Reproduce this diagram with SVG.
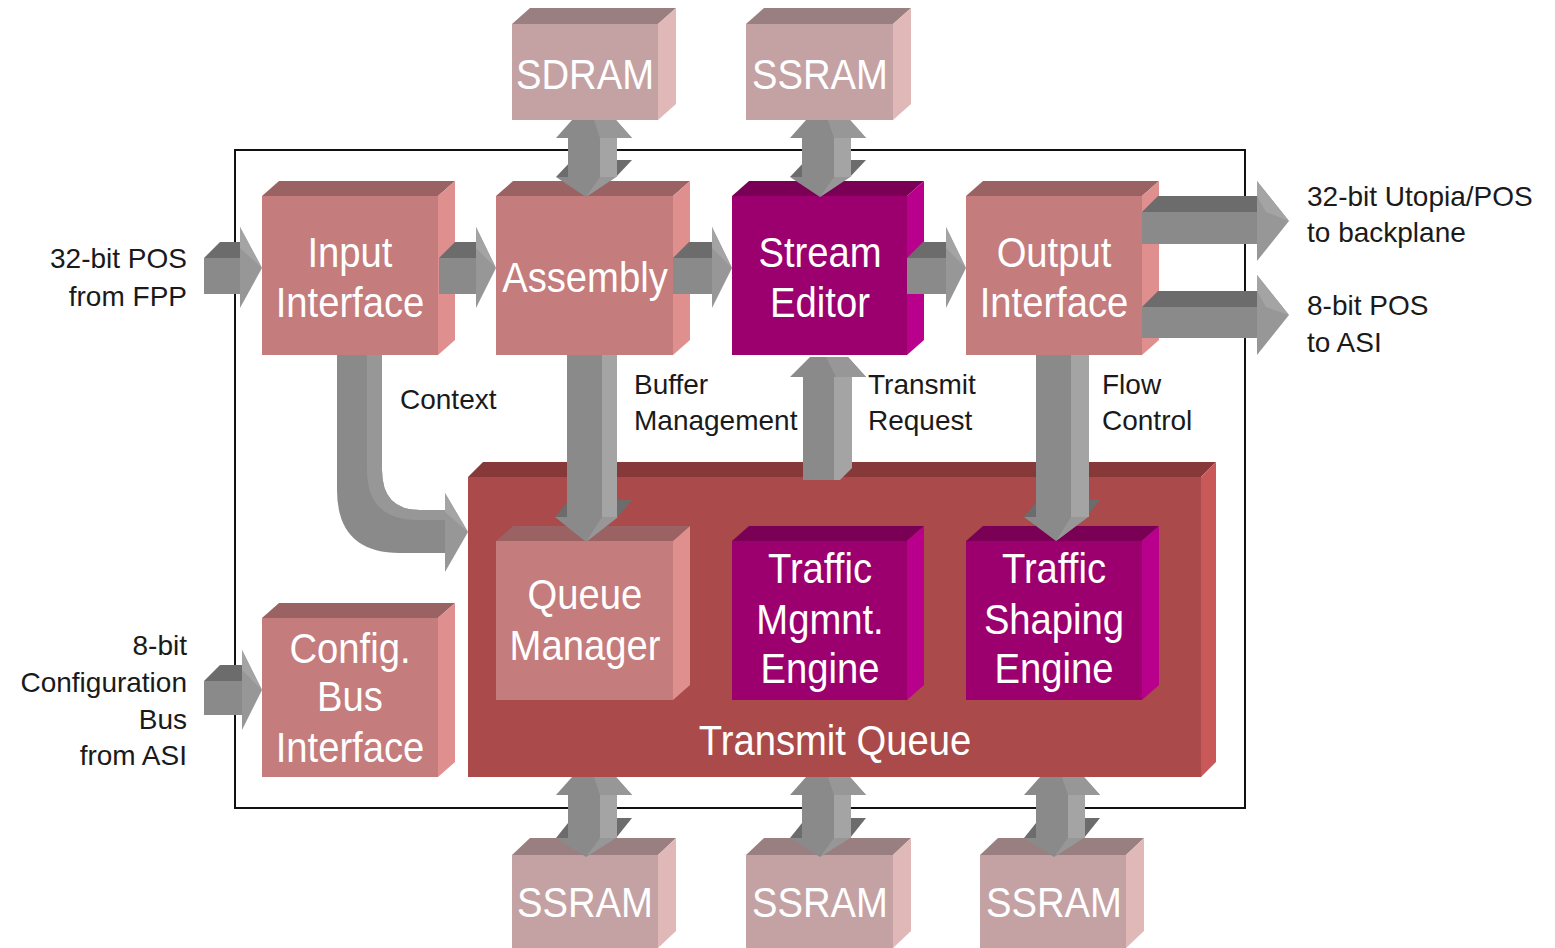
<svg xmlns="http://www.w3.org/2000/svg" width="1555" height="948" viewBox="0 0 1555 948">
<style>
.pf{fill:#c47c7c}.pt{fill:#9a6262}.ps{fill:#e08f8f}
.mf{fill:#9c006f}.mt{fill:#7a0055}.ms{fill:#b8008c}
.rf{fill:#c4a2a4}.rt{fill:#9a7f80}.rs{fill:#e0b8b8}
.qf{fill:#ab4a4a}.qt{fill:#873838}.qs{fill:#c95858}
.af{fill:#8a8a8a}.ad{fill:#6c6c6c}.al{fill:#a4a4a4}.ah{fill:#979797}
.wt{font-family:"Liberation Sans",Arial,sans-serif;font-size:42px;fill:#ffffff;text-anchor:middle;transform-box:fill-box;transform-origin:center;transform:scaleX(0.91)}
.bt{font-family:"Liberation Sans",Arial,sans-serif;font-size:28px;fill:#1a1a1a}
.br{text-anchor:end}
</style>
<rect width="1555" height="948" fill="#ffffff"/>
<rect x="235" y="150" width="1010" height="658" fill="none" stroke="#111" stroke-width="2"/>

<g id="labels">
<text class="bt br" x="187" y="268">32-bit POS</text>
<text class="bt br" x="187" y="306">from FPP</text>
<text class="bt" x="400" y="409">Context</text>
<text class="bt" x="634" y="394">Buffer</text>
<text class="bt" x="634" y="430">Management</text>
<text class="bt" x="868" y="394">Transmit</text>
<text class="bt" x="868" y="430">Request</text>
<text class="bt" x="1102" y="394">Flow</text>
<text class="bt" x="1102" y="430">Control</text>
<text class="bt" x="1307" y="206">32-bit Utopia/POS</text>
<text class="bt" x="1307" y="242">to backplane</text>
<text class="bt" x="1307" y="315">8-bit POS</text>
<text class="bt" x="1307" y="352">to ASI</text>
<text class="bt br" x="187" y="655">8-bit</text>
<text class="bt br" x="187" y="692">Configuration</text>
<text class="bt br" x="187" y="729">Bus</text>
<text class="bt br" x="187" y="765">from ASI</text>
</g>

<g id="sdram">
<polygon class="rt" points="512,24 530,8 676,8 658,24"/>
<polygon class="rs" points="658,24 676,8 676,104 658,120"/>
<rect class="rf" x="512" y="24" width="146" height="96"/>
<text class="wt" x="585" y="89">SDRAM</text>
</g>
<g id="ssram-top">
<polygon class="rt" points="746,24 764,8 911,8 893,24"/>
<polygon class="rs" points="893,24 911,8 911,104 893,120"/>
<rect class="rf" x="746" y="24" width="147" height="96"/>
<text class="wt" x="820" y="89">SSRAM</text>
</g>

<g id="input-interface">
<polygon class="pt" points="262,196 279,181 455,181 438,196"/>
<polygon class="ps" points="438,196 455,181 455,340 438,355"/>
<rect class="pf" x="262" y="196" width="176" height="159"/>
<text class="wt" x="350" y="267">Input</text>
<text class="wt" x="350" y="317">Interface</text>
</g>
<g id="assembly">
<polygon class="pt" points="496,196 513,181 690,181 673,196"/>
<polygon class="ps" points="673,196 690,181 690,340 673,355"/>
<rect class="pf" x="496" y="196" width="177" height="159"/>
<text class="wt" x="585" y="292">Assembly</text>
</g>
<g id="stream-editor">
<polygon class="mt" points="732,196 749,181 924,181 907,196"/>
<polygon class="ms" points="907,196 924,181 924,340 907,355"/>
<rect class="mf" x="732" y="196" width="175" height="159"/>
<text class="wt" x="820" y="267">Stream</text>
<text class="wt" x="820" y="317">Editor</text>
</g>
<g id="output-interface">
<polygon class="pt" points="966,196 983,181 1159,181 1142,196"/>
<polygon class="ps" points="1142,196 1159,181 1159,340 1142,355"/>
<rect class="pf" x="966" y="196" width="176" height="159"/>
<text class="wt" x="1054" y="267">Output</text>
<text class="wt" x="1054" y="317">Interface</text>
</g>

<g id="transmit-queue">
<polygon class="qt" points="468,477 483,462 1216,462 1201,477"/>
<polygon class="qs" points="1201,477 1216,462 1216,762 1201,777"/>
<rect class="qf" x="468" y="477" width="733" height="300"/>
<text class="wt" x="835" y="755">Transmit Queue</text>
</g>
<g id="queue-manager">
<polygon class="pt" points="496,541 513,526 690,526 673,541"/>
<polygon class="ps" points="673,541 690,526 690,685 673,700"/>
<rect class="pf" x="496" y="541" width="177" height="159"/>
<text class="wt" x="585" y="609">Queue</text>
<text class="wt" x="585" y="660">Manager</text>
</g>
<g id="traffic-mgmnt-engine">
<polygon class="mt" points="732,541 749,526 924,526 907,541"/>
<polygon class="ms" points="907,541 924,526 924,685 907,700"/>
<rect class="mf" x="732" y="541" width="175" height="159"/>
<text class="wt" x="820" y="583">Traffic</text>
<text class="wt" x="820" y="634">Mgmnt.</text>
<text class="wt" x="820" y="683">Engine</text>
</g>
<g id="traffic-shaping-engine">
<polygon class="mt" points="966,541 983,526 1159,526 1142,541"/>
<polygon class="ms" points="1142,541 1159,526 1159,685 1142,700"/>
<rect class="mf" x="966" y="541" width="176" height="159"/>
<text class="wt" x="1054" y="583">Traffic</text>
<text class="wt" x="1054" y="634">Shaping</text>
<text class="wt" x="1054" y="683">Engine</text>
</g>
<g id="config-bus-interface">
<polygon class="pt" points="262,618 279,603 455,603 438,618"/>
<polygon class="ps" points="438,618 455,603 455,762 438,777"/>
<rect class="pf" x="262" y="618" width="176" height="159"/>
<text class="wt" x="350" y="663">Config.</text>
<text class="wt" x="350" y="711">Bus</text>
<text class="wt" x="350" y="762">Interface</text>
</g>

<g id="ssram-b1">
<polygon class="rt" points="512,855 530,838 676,838 658,855"/>
<polygon class="rs" points="658,855 676,838 676,931 658,948"/>
<rect class="rf" x="512" y="855" width="146" height="93"/>
<text class="wt" x="585" y="917">SSRAM</text>
</g>
<g id="ssram-b2">
<polygon class="rt" points="746,855 764,838 911,838 893,855"/>
<polygon class="rs" points="893,855 911,838 911,931 893,948"/>
<rect class="rf" x="746" y="855" width="147" height="93"/>
<text class="wt" x="820" y="917">SSRAM</text>
</g>
<g id="ssram-b3">
<polygon class="rt" points="980,855 998,838 1144,838 1126,855"/>
<polygon class="rs" points="1126,855 1144,838 1144,931 1126,948"/>
<rect class="rf" x="980" y="855" width="146" height="93"/>
<text class="wt" x="1054" y="917">SSRAM</text>
</g>

<g id="connectors">
<g id="a-fpp">
<polygon class="ad" points="204,258 220,242 240,242 240,258"/>
<rect class="af" x="204" y="258" width="36" height="36"/>
<polygon class="ah" points="240,227 262,268 240,308"/>
<polygon class="al" points="240,227 262,268 240,248"/>
</g>
<g id="a-in-asm">
<polygon class="ad" points="439,258 455,242 476,242 476,258"/>
<rect class="af" x="439" y="258" width="37" height="36"/>
<polygon class="ah" points="476,227 496,268 476,308"/>
<polygon class="al" points="476,227 496,268 476,248"/>
</g>
<g id="a-asm-se">
<polygon class="ad" points="673,258 689,242 712,242 712,258"/>
<rect class="af" x="673" y="258" width="39" height="36"/>
<polygon class="ah" points="712,227 732,268 712,308"/>
<polygon class="al" points="712,227 732,268 712,248"/>
</g>
<g id="a-se-out">
<polygon class="ad" points="907,258 923,242 946,242 946,258"/>
<rect class="af" x="907" y="258" width="39" height="36"/>
<polygon class="ah" points="946,227 966,268 946,308"/>
<polygon class="al" points="946,227 966,268 946,248"/>
</g>
<g id="a-out-bp">
<polygon class="ad" points="1142,212 1158,196 1257,196 1257,212"/>
<rect class="af" x="1142" y="212" width="115" height="32"/>
<polygon class="ah" points="1257,181 1289,221 1257,261"/>
<polygon class="al" points="1257,181 1289,221 1266,212 1257,196"/>
</g>
<g id="a-out-asi">
<polygon class="ad" points="1142,307 1158,291 1257,291 1257,307"/>
<rect class="af" x="1142" y="307" width="115" height="31"/>
<polygon class="ah" points="1257,275 1289,315 1257,355"/>
<polygon class="al" points="1257,275 1289,315 1266,307 1257,291"/>
</g>
<g id="a-cfg">
<polygon class="ad" points="204,681 220,665 242,665 242,681"/>
<rect class="af" x="204" y="681" width="38" height="34"/>
<polygon class="ah" points="242,650 262,690 242,730"/>
<polygon class="al" points="242,650 262,690 242,670"/>
</g>

<g id="v-sdram">
<polygon class="af" points="556,138 572,120 616,120 632,138"/>
<polygon class="ah" points="594,120 616,120 632,138 600,138"/>
<polygon class="ad" points="556,177 572,160 632,160 616,177"/>
<rect class="af" x="568" y="138" width="32" height="39"/>
<rect class="al" x="600" y="138" width="17" height="39"/>
<polygon class="af" points="556,177 616,177 586,197"/>
<polygon class="ah" points="586,197 616,177 600,177"/>
</g>
<g id="v-ssram-top">
<polygon class="af" points="790,138 806,120 850,120 866,138"/>
<polygon class="ah" points="828,120 850,120 866,138 834,138"/>
<polygon class="ad" points="790,177 806,160 866,160 850,177"/>
<rect class="af" x="802" y="138" width="32" height="39"/>
<rect class="al" x="834" y="138" width="17" height="39"/>
<polygon class="af" points="790,177 850,177 820,197"/>
<polygon class="ah" points="820,197 850,177 834,177"/>
</g>
<g id="v-ssram-b1">
<polygon class="af" points="556,795 572,777 616,777 632,795"/>
<polygon class="ah" points="594,777 616,777 632,795 600,795"/>
<polygon class="ad" points="556,838 572,818 632,818 616,838"/>
<rect class="af" x="568" y="795" width="32" height="43"/>
<rect class="al" x="600" y="795" width="17" height="43"/>
<polygon class="af" points="556,838 616,838 586,857"/>
<polygon class="ah" points="586,857 616,838 600,838"/>
</g>
<g id="v-ssram-b2">
<polygon class="af" points="790,795 806,777 850,777 866,795"/>
<polygon class="ah" points="828,777 850,777 866,795 834,795"/>
<polygon class="ad" points="790,838 806,818 866,818 850,838"/>
<rect class="af" x="802" y="795" width="32" height="43"/>
<rect class="al" x="834" y="795" width="17" height="43"/>
<polygon class="af" points="790,838 850,838 820,857"/>
<polygon class="ah" points="820,857 850,838 834,838"/>
</g>
<g id="v-ssram-b3">
<polygon class="af" points="1024,795 1040,777 1084,777 1100,795"/>
<polygon class="ah" points="1062,777 1084,777 1100,795 1068,795"/>
<polygon class="ad" points="1024,838 1040,818 1100,818 1084,838"/>
<rect class="af" x="1036" y="795" width="32" height="43"/>
<rect class="al" x="1068" y="795" width="17" height="43"/>
<polygon class="af" points="1024,838 1084,838 1054,857"/>
<polygon class="ah" points="1054,857 1084,838 1068,838"/>
</g>

<g id="a-buffer">
<polygon class="ad" points="555,517 569,500 632,500 618,517"/>
<rect class="af" x="567" y="355" width="35" height="162"/>
<rect class="al" x="602" y="355" width="15" height="162"/>
<polygon class="af" points="555,517 618,517 586,542"/>
<polygon class="ah" points="586,542 618,517 602,517"/>
</g>
<g id="a-flow">
<polygon class="ad" points="1024,517 1038,500 1100,500 1086,517"/>
<rect class="af" x="1036" y="355" width="35" height="162"/>
<rect class="al" x="1071" y="355" width="18" height="162"/>
<polygon class="af" points="1024,517 1088,517 1056,541"/>
<polygon class="ah" points="1056,541 1088,517 1071,517"/>
</g>
<g id="a-treq">
<rect class="af" x="803" y="377" width="31" height="103"/>
<polygon class="al" points="834,377 852,377 852,468 840,480 834,480"/>
<polygon class="af" points="790,377 810,357 848,357 866,377"/>
<polygon class="ah" points="826,357 848,357 866,377 836,377"/>
</g>
<g id="a-context">
<path class="af" d="M337,355 V490 Q337,553 400,553 H445 L445,510 H420 Q382,510 382,470 V355 Z"/>
<path class="ah" d="M367,355 H382 V470 Q382,510 420,510 H445 V520 H418 Q367,520 367,470 Z"/>
<polygon class="ah" points="445,493 468,532 445,572"/>
<polygon class="al" points="445,493 468,532 445,512"/>
</g>
</g>
</svg>
